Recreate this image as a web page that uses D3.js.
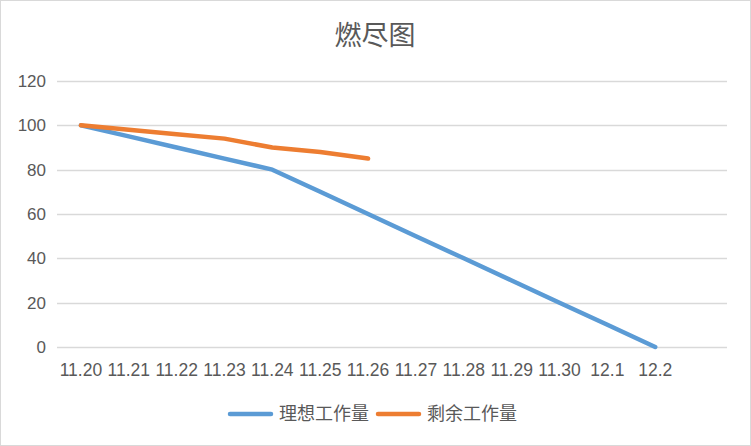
<!DOCTYPE html>
<html><head><meta charset="utf-8">
<script src="https://cdn.jsdelivr.net/npm/d3@7/dist/d3.min.js"></script>
<style>body{margin:0;background:#fff}</style>
</head><body>
<svg id="c" width="751" height="446"></svg>
<script>
const categories = ["11.20","11.21","11.22","11.23","11.24","11.25","11.26","11.27","11.28","11.29","11.30","12.1","12.2",""];
const idealValues = [100,95,90,85,80,70,60,50,40,30,20,10,0];
const remainingValues = [100,98,96,94,90,88,85];
const yTicks = [0,20,40,60,80,100,120];
const seriesNames = ["理想工作量","剩余工作量"];
const colors = ["#5b9bd5","#ed7d31"];

const svg = d3.select("#c");
const W = 751, H = 446;
const textColor = "#595959";
const font = "'Liberation Sans', Arial, sans-serif";
const cjk = "'Noto Sans CJK SC', sans-serif";

svg.append("rect").attr("x",0.5).attr("y",0.5).attr("width",W-1).attr("height",H-1)
  .attr("fill","#fff").attr("stroke","#d9d9d9");

const plotLeft = 57, plotRight = 727, plotTop = 81, plotBottom = 347;
const x = d3.scaleBand().domain(categories).range([plotLeft, plotRight]);
const y = d3.scaleLinear().domain([0,120]).range([plotBottom, plotTop]);

// gridlines
svg.append("g").selectAll("line").data(yTicks).join("line")
  .attr("x1",plotLeft).attr("x2",plotRight)
  .attr("y1",d=>Math.round(y(d))+0.5).attr("y2",d=>Math.round(y(d))+0.5)
  .attr("stroke","#d9d9d9").attr("stroke-width",1.5);

// y axis labels
const yAxis = d3.axisLeft(y).tickValues(yTicks).tickSize(0).tickPadding(11);
const gy = svg.append("g").attr("transform",`translate(${plotLeft},0)`).call(yAxis);
gy.select(".domain").remove();
gy.selectAll("text").attr("fill",textColor).style("font-family",font).style("font-size","17px");

// x axis labels
const xAxis = d3.axisBottom(x).tickSize(0).tickPadding(17);
const gx = svg.append("g").attr("transform",`translate(0,${plotBottom})`).call(xAxis);
gx.select(".domain").remove();
gx.selectAll("text").attr("fill",textColor).style("font-family",font).style("font-size","17.5px");

const cx = (d,i)=> x(categories[i]) + x.bandwidth()/2;
const line = d3.line().x((d,i)=>cx(d,i)).y(d=>y(d));

[idealValues, remainingValues].forEach((vals,k)=>{
  svg.append("path").datum(vals).attr("d",line).attr("fill","none")
    .attr("stroke",colors[k]).attr("stroke-width",4.5)
    .attr("stroke-linecap","round").attr("stroke-linejoin","round");
});

// title
svg.append("text").attr("x",375).attr("y",45).attr("text-anchor","middle")
  .attr("fill",textColor).style("font-family",cjk).style("font-size","27px").text("燃尽图");

// legend
const legendX = [228, 376];
seriesNames.forEach((n,k)=>{
  const lx = legendX[k];
  svg.append("line").attr("x1",lx+2).attr("x2",lx+43).attr("y1",414).attr("y2",414)
    .attr("stroke",colors[k]).attr("stroke-width",4.5).attr("stroke-linecap","round");
  svg.append("text").attr("x",lx+51).attr("y",420).attr("fill",textColor)
    .style("font-family",cjk).style("font-size","18px").text(n);
});
</script>
</body></html>
